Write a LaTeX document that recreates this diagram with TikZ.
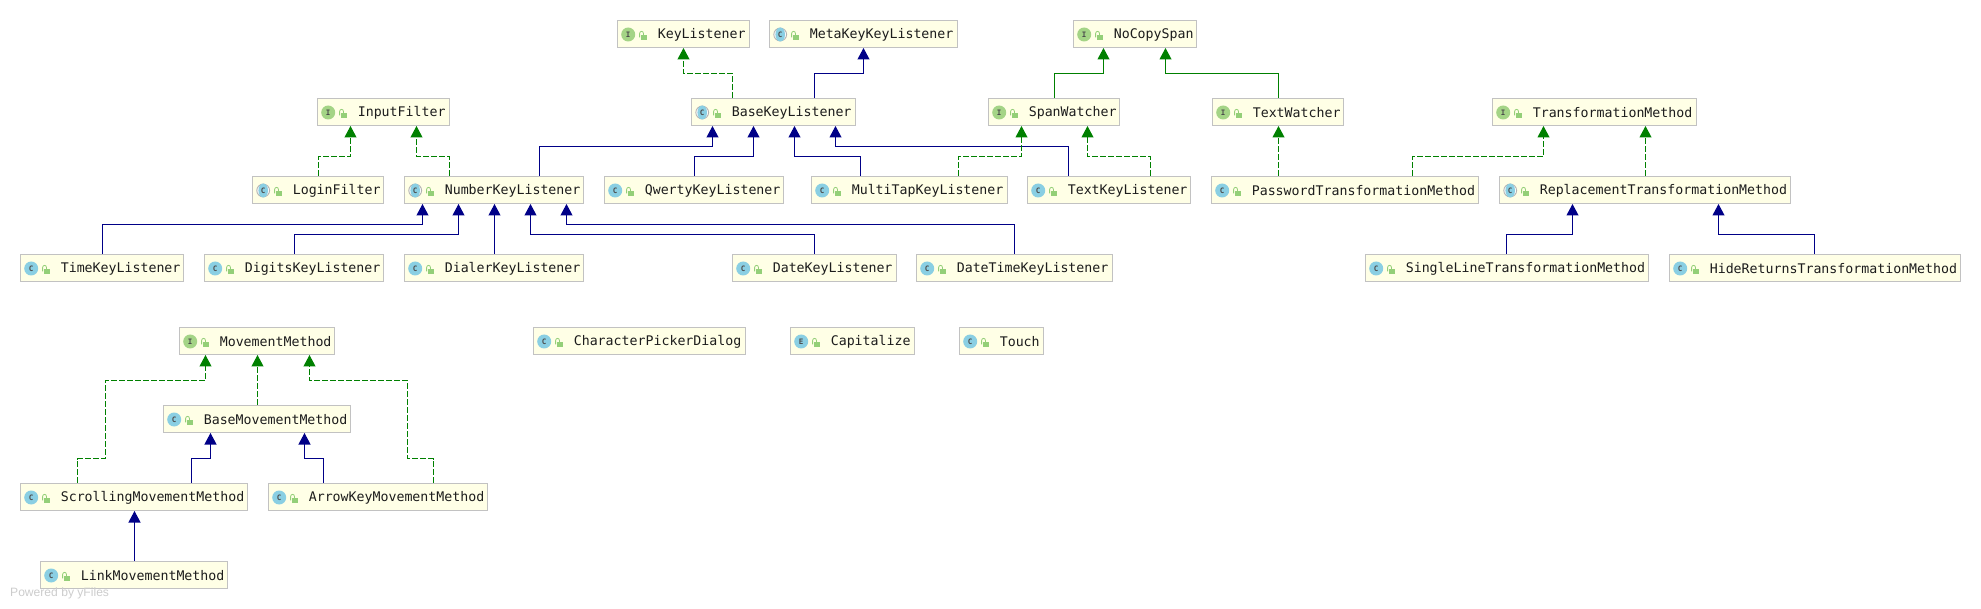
\documentclass[tikz,border=0pt]{standalone}
\usepackage{fontspec}
\setmainfont{Liberation Sans}
\setmonofont{DejaVu Sans Mono}
\usetikzlibrary{arrows.meta}
\definecolor{boxfill}{HTML}{FFFFE6}
\definecolor{boxline}{HTML}{C2C2C2}
\definecolor{clsblue}{HTML}{8ACFE3}
\definecolor{ifgreen}{HTML}{A4D486}
\definecolor{lockgreen}{HTML}{94CF78}
\definecolor{inhnavy}{HTML}{000087}
\definecolor{impgreen}{HTML}{008000}
\definecolor{txt}{HTML}{1C1C1C}
\tikzset{
  classbox/.style={draw=boxline,fill=boxfill,line width=1pt,inner sep=0pt,outer sep=0pt,anchor=north west,minimum height=27pt,align=left,font=\ttfamily\fontsize{13.25}{16}\selectfont,text=txt},
  iconletter/.style={inner sep=0pt,font=\ttfamily\bfseries\fontsize{7.5}{8}\selectfont,text=black!70},
  tip/.style={-{Triangle[width=12pt,length=11.5pt]},shorten >=0.5pt,shorten <=0.8pt},
  extends/.style={tip,draw=inhnavy,line width=1.1pt},
  realizes/.style={tip,draw=impgreen,line width=1.1pt,dash pattern=on 6pt off 2pt},
  ifextends/.style={tip,draw=impgreen,line width=1.1pt},
  watermark/.style={inner sep=0pt,anchor=west,text=black!20,font=\fontsize{12.1}{14}\selectfont}
}
% name, x1, x2, top, kind (C, A abstract, I, E), text
\newcommand{\cbox}[6]{%
  \pgfmathsetmacro{\boxw}{#3-#2}%
  \node[classbox,text width=\boxw pt] (#1) at (#2,#4) {\hspace*{40.3pt}\vphantom{Ag}\raisebox{-1.6pt}{#6}};
  \begin{scope}[shift={(#1.north west)}]
    \def\kind{#5}\def\kA{A}\def\kI{I}\def\kE{E}%
    \ifx\kind\kA
      \draw[black!30,line width=0.9pt,fill=white] (10.7,14) circle (6.4pt);
      \fill[clsblue] (10.7,14) ellipse (4.8pt and 7pt);
    \else\ifx\kind\kI
      \fill[ifgreen] (10.7,14) circle (7pt);
    \else
      \fill[clsblue] (10.7,14) circle (7pt);
    \fi\fi
    \node[iconletter] (#1-k) at (10.7,14) {\ifx\kind\kA C\else #5\fi};
    \fill[lockgreen] (23.3,14.4) rectangle (29.7,19.4);
    \draw[lockgreen,line width=0.8pt] (22.1,16.8) -- (22.1,13) .. controls (22.1,10.2) and (26,10.2) .. (26,13) -- (26,14.4);
  \end{scope}
}
% style, source, source x, mid y, target x, target
\newcommand{\bent}[6]{\draw[#1] (#3,0 |- #2.north) -- (#3,#4) -- (#5,#4) -- (#5,0 |- #6.south);}
\newcommand{\bentb}[8]{\draw[#1] (#3,0 |- #2.north) -- (#3,#4) -- (#5,#4) -- (#5,#6) -- (#7,#6) -- (#7,0 |- #8.south);}
\newcommand{\direct}[4]{\draw[#1] (#3,0 |- #2.north) -- (#3,0 |- #4.south);}
\begin{document}
\begin{tikzpicture}[x=1pt,y=-1pt]
\useasboundingbox (0,0) rectangle (1981,609);
\cbox{KL}{617.5}{749.5}{20.5}{I}{KeyListener}
\cbox{MKKL}{769.5}{957.5}{20.5}{A}{MetaKeyKeyListener}
\cbox{NCS}{1073.5}{1196.5}{20.5}{I}{NoCopySpan}
\cbox{IF}{317.5}{449.5}{98.5}{I}{InputFilter}
\cbox{BKL}{691.5}{855.5}{98.5}{A}{BaseKeyListener}
\cbox{SW}{988.5}{1119.5}{98.5}{I}{SpanWatcher}
\cbox{TW}{1212.5}{1343.5}{98.5}{I}{TextWatcher}
\cbox{TM}{1492.5}{1696.5}{98.5}{I}{TransformationMethod}
\cbox{LF}{252.5}{383.5}{176.5}{A}{LoginFilter}
\cbox{NKL}{404.5}{583.5}{176.5}{A}{NumberKeyListener}
\cbox{QKL}{604.5}{783.5}{176.5}{C}{QwertyKeyListener}
\cbox{MTKL}{811.5}{1007.5}{176.5}{C}{MultiTapKeyListener}
\cbox{TKL}{1027.5}{1190.5}{176.5}{C}{TextKeyListener}
\cbox{PTM}{1211.5}{1478.5}{176.5}{C}{PasswordTransformationMethod}
\cbox{RTM}{1499.5}{1790.5}{176.5}{A}{ReplacementTransformationMethod}
\cbox{TiKL}{20.5}{183.5}{254.5}{C}{TimeKeyListener}
\cbox{DgKL}{204.5}{383.5}{254.5}{C}{DigitsKeyListener}
\cbox{DlKL}{404.5}{583.5}{254.5}{C}{DialerKeyListener}
\cbox{DKL}{732.5}{896.5}{254.5}{C}{DateKeyListener}
\cbox{DTKL}{916.5}{1112.5}{254.5}{C}{DateTimeKeyListener}
\cbox{SLTM}{1365.5}{1648.5}{254.5}{C}{SingleLineTransformationMethod}
\cbox{HRTM}{1669.5}{1960.5}{254.5}{C}{HideReturnsTransformationMethod}
\cbox{MM}{179.5}{334.5}{327.5}{I}{MovementMethod}
\cbox{CPD}{533.5}{745.5}{327.5}{C}{CharacterPickerDialog}
\cbox{Cap}{790.5}{914.5}{327.5}{E}{Capitalize}
\cbox{Tch}{959.5}{1043.5}{327.5}{C}{Touch}
\cbox{BMM}{163.5}{350.5}{405.5}{C}{BaseMovementMethod}
\cbox{SMM}{20.5}{247.5}{483.5}{C}{ScrollingMovementMethod}
\cbox{AMM}{268.5}{487.5}{483.5}{C}{ArrowKeyMovementMethod}
\cbox{LMM}{40.5}{227.5}{561.5}{C}{LinkMovementMethod}
\bent{realizes}{BKL}{732.5}{73.5}{683.5}{KL}
\bent{extends}{BKL}{814.5}{73.5}{863.5}{MKKL}
\bent{ifextends}{SW}{1054.5}{73.5}{1103.5}{NCS}
\bent{ifextends}{TW}{1278.5}{73.5}{1165.5}{NCS}
\bent{realizes}{LF}{318.5}{156.5}{350.5}{IF}
\bent{realizes}{NKL}{449.5}{156.5}{416.5}{IF}
\bent{extends}{NKL}{539.5}{146.5}{712.5}{BKL}
\bent{extends}{QKL}{694.5}{156.5}{753.5}{BKL}
\bent{extends}{MTKL}{860.5}{156.5}{794.5}{BKL}
\bent{extends}{TKL}{1068.5}{146.5}{835.5}{BKL}
\bent{realizes}{MTKL}{958.5}{156.5}{1021.5}{SW}
\bent{realizes}{TKL}{1150.5}{156.5}{1087.5}{SW}
\direct{realizes}{PTM}{1278.5}{TW}
\bent{realizes}{PTM}{1412.5}{156.5}{1543.5}{TM}
\direct{realizes}{RTM}{1645.5}{TM}
\bent{extends}{TiKL}{102.5}{224.5}{422.5}{NKL}
\bent{extends}{DgKL}{294.5}{234.5}{458.5}{NKL}
\direct{extends}{DlKL}{494.5}{NKL}
\bent{extends}{DKL}{814.5}{234.5}{530.5}{NKL}
\bent{extends}{DTKL}{1014.5}{224.5}{566.5}{NKL}
\bent{extends}{SLTM}{1506.5}{234.5}{1572.5}{RTM}
\bent{extends}{HRTM}{1814.5}{234.5}{1718.5}{RTM}
\bentb{realizes}{SMM}{77.5}{458.5}{105.5}{380.5}{205.5}{MM}
\direct{realizes}{BMM}{257.5}{MM}
\bentb{realizes}{AMM}{433.5}{458.5}{407.5}{380.5}{309.5}{MM}
\bent{extends}{SMM}{191.5}{458.5}{210.5}{BMM}
\bent{extends}{AMM}{323.5}{458.5}{304.5}{BMM}
\direct{extends}{LMM}{134.5}{SMM}
\node[watermark] (wm) at (10,593.5) {Powered by yFiles};
\end{tikzpicture}
\end{document}
